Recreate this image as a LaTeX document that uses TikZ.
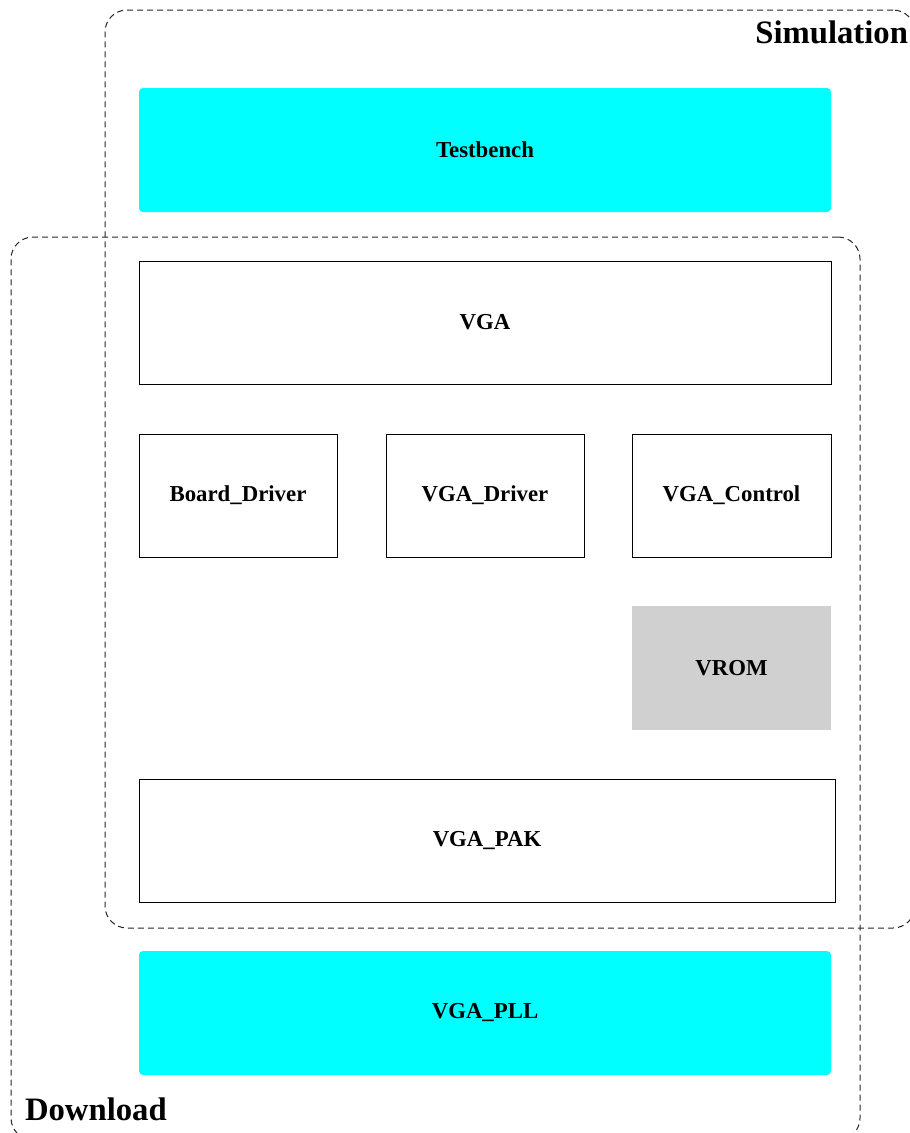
\documentclass[tikz,border=0pt]{standalone}
\usepackage{fontspec}
\setmainfont{Liberation Serif}
\begin{document}
\begin{tikzpicture}[x=1pt,y=-1pt,
  every node/.style={inner sep=0pt, outer sep=0pt, font=\bfseries\fontsize{22.8}{27}\selectfont},
  module/.style={draw=black, line width=1pt, rectangle},
  vhdlpkg/.style={fill=pkgcyan, rectangle, rounded corners=4pt},
  romblock/.style={fill=rombg, rectangle},
  cluster/.style={draw=black!85, line width=1pt, dash pattern=on 6pt off 4pt, rounded corners=22pt, rectangle},
  clusterlabel/.style={font=\bfseries\fontsize{32.7}{38}\selectfont}
]
\definecolor{rombg}{HTML}{D0D0D0}
\definecolor{pkgcyan}{RGB}{0,255,255}
\useasboundingbox (0,0) rectangle (910,1133);

% grouping frames
\node[cluster, minimum width=810pt, minimum height=918pt] (simulation) at (510,469) {};
\node[cluster, minimum width=849pt, minimum height=903pt] (download) at (435.5,688.5) {};
\node[clusterlabel, anchor=base east] (simlabel) at (908,43) {Simulation};
\node[clusterlabel, anchor=base west] (dllabel) at (25,1120) {Download};

% design units
\node[vhdlpkg, minimum width=692pt, minimum height=124pt] (testbench) at (485,150) {Testbench};
\node[module, minimum width=692pt, minimum height=123pt] (vga) at (485,322.5) {VGA};
\node[module, minimum width=198pt, minimum height=123pt] (boarddrv) at (238,495.5) {Board\_Driver};
\node[module, minimum width=198pt, minimum height=123pt] (vgadrv) at (485,495.5) {VGA\_Driver};
\node[module, minimum width=199pt, minimum height=123pt] (vgactl) at (731.5,495.5) {VGA\_Control};
\node[romblock, minimum width=199pt, minimum height=124pt] (vrom) at (731.5,668) {VROM};
\node[module, minimum width=696pt, minimum height=123pt] (vgapak) at (487,840.5) {VGA\_PAK};
\node[vhdlpkg, minimum width=692pt, minimum height=124pt] (vgapll) at (485,1013) {VGA\_PLL};
\end{tikzpicture}
\end{document}
